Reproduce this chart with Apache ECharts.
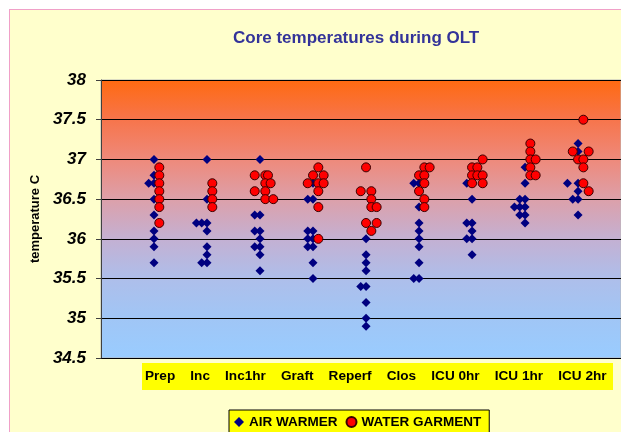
<!DOCTYPE html>
<html>
<head>
<meta charset="utf-8">
<script src="https://cdn.jsdelivr.net/npm/echarts@6/dist/echarts.min.js"></script>
<style>
  html, body { margin: 0; padding: 0; background: #fff; }
  #frame {
    position: absolute; left: 9px; top: 9px; width: 640px; height: 440px;
    background: #ffffcc; border-left: 1px solid #f0a0c8; border-top: 1px solid #f0a0c8;
  }
  #chart { position: absolute; left: 0; top: 0; width: 621px; height: 432px; }
</style>
</head>
<body>
<div id="frame"></div>
<div id="chart"></div>
<script>
// category names shown under the plot (a text box in the original sheet)
const categories = ['Prep', 'Inc', 'Inc1hr', 'Graft', 'Reperf', 'Clos', 'ICU 0hr', 'ICU 1hr', 'ICU 2hr']

// [x position (category index + small jitter), temperature]
const airWarmer = [
  [1, 37.0], [1, 36.8], [0.9, 36.7], [1, 36.7], [1, 36.5], [1, 36.3], [1, 36.1], [1, 36.0], [1, 35.9], [1, 35.7],
  [2, 37.0], [2, 36.5], [1.8, 36.2], [1.9, 36.2], [2, 36.2], [2, 36.1], [2, 35.9], [2, 35.8], [1.9, 35.7], [2, 35.7],
  [3, 37.0], [2.9, 36.3], [3, 36.3], [2.9, 36.1], [3, 36.1], [3, 36.0], [2.9, 35.9], [3, 35.9], [3, 35.8], [3, 35.6],
  [4, 36.7], [3.9, 36.5], [4, 36.5], [3.9, 36.1], [4, 36.1], [3.9, 36.0], [4, 36.0], [3.9, 35.9], [4, 35.9], [4, 35.7], [4, 35.5],
  [5, 36.0], [5, 35.8], [5, 35.7], [5, 35.6], [4.9, 35.4], [5, 35.4], [5, 35.2], [5, 35.0], [5, 34.9],
  [5.9, 36.7], [6, 36.7], [6, 36.4], [6, 36.2], [6, 36.1], [6, 36.0], [6, 35.9], [6, 35.7], [5.9, 35.5], [6, 35.5],
  [6.9, 36.7], [7, 36.5], [6.9, 36.2], [7, 36.2], [7, 36.1], [6.9, 36.0], [7, 36.0], [7, 35.8],
  [8, 36.9], [8, 36.7], [7.9, 36.5], [8, 36.5], [7.8, 36.4], [7.9, 36.4], [8, 36.4], [7.9, 36.3], [8, 36.3], [8, 36.2],
  [9, 37.2], [9, 37.1], [8.8, 36.7], [9, 36.7], [9, 36.6], [8.9, 36.5], [9, 36.5], [9, 36.3]
]

const waterGarment = [
  [1.1, 36.9], [1.1, 36.8], [1.1, 36.7], [1.1, 36.6], [1.1, 36.5], [1.1, 36.4], [1.1, 36.2],
  [2.1, 36.7], [2.1, 36.6], [2.1, 36.5], [2.1, 36.4],
  [2.9, 36.8], [3.1, 36.8], [3.15, 36.8], [3.1, 36.7], [3.2, 36.7], [2.9, 36.6], [3.1, 36.6], [3.1, 36.5], [3.25, 36.5],
  [4.1, 36.9], [4, 36.8], [4.2, 36.8], [3.9, 36.7], [4.1, 36.7], [4.2, 36.7], [4.1, 36.6], [4.1, 36.4], [4.1, 36.0],
  [5, 36.9], [4.9, 36.6], [5.1, 36.6], [5.1, 36.5], [5.1, 36.4], [5.2, 36.4], [5, 36.2], [5.2, 36.2], [5.1, 36.1],
  [6.1, 36.9], [6.2, 36.9], [6, 36.8], [6.1, 36.8], [6.1, 36.7], [6, 36.6], [6.1, 36.5], [6.1, 36.4],
  [7.2, 37.0], [7, 36.9], [7.1, 36.9], [7, 36.8], [7.1, 36.8], [7.2, 36.8], [7, 36.7], [7.2, 36.7],
  [8.1, 37.2], [8.1, 37.1], [8.1, 37.0], [8.2, 37.0], [8.1, 36.9], [8.1, 36.8], [8.2, 36.8],
  [9.1, 37.5], [8.9, 37.1], [9.2, 37.1], [9, 37.0], [9.1, 37.0], [9.1, 36.9], [9.1, 36.7], [9.2, 36.6]
]

const font = '"Liberation Sans", Arial, sans-serif'
const chart = echarts.init(document.getElementById('chart'))

chart.setOption({
  animation: false,
  textStyle: { fontFamily: font },
  title: {
    text: 'Core temperatures during OLT',
    left: 228,
    top: 25,
    textStyle: { color: '#333399', fontSize: 17, fontWeight: 'bold', fontFamily: font },
  },
  grid: {
    left: 101,
    right: 0,
    top: 80,
    bottom: 74,
    show: true,
    borderColor: '#b8b8b8',
    borderWidth: 1,
    backgroundColor: new echarts.graphic.LinearGradient(0, 0, 0, 1, [
      { offset: 0, color: '#ff6a10' },
      { offset: 0.14, color: '#f7744a' },
      { offset: 0.29, color: '#ee8a7c' },
      { offset: 0.43, color: '#dca0aa' },
      { offset: 0.57, color: '#c4b0d2' },
      { offset: 0.71, color: '#aebeea' },
      { offset: 0.86, color: '#a0c6f6' },
      { offset: 1, color: '#99ccff' },
    ]),
  },
  xAxis: {
    type: 'value',
    min: 0,
    max: 9.81,
    show: false,
  },
  yAxis: {
    type: 'value',
    min: 34.5,
    max: 38,
    interval: 0.5,
    name: 'temperature C',
    nameLocation: 'middle',
    nameRotate: 90,
    nameGap: 59,
    nameTextStyle: { color: '#000', fontSize: 13, fontWeight: 'bold', fontFamily: font },
    axisLine: { show: true, lineStyle: { color: '#404040', width: 1 } },
    axisTick: { show: true, length: 5, lineStyle: { color: '#404040' } },
    axisLabel: {
      margin: 15,
      color: '#000',
      fontSize: 17,
      fontWeight: 'bold',
      fontStyle: 'italic',
      fontFamily: font,
    },
    splitLine: { show: true, lineStyle: { color: '#000', width: 1 } },
  },
  legend: {
    left: 229,
    top: 410,
    orient: 'horizontal',
    backgroundColor: '#ffff00',
    borderColor: '#000',
    borderWidth: 1,
    borderRadius: 0,
    padding: [5, 8, 6, 5],
    itemWidth: 10,
    itemHeight: 10,
    itemGap: 8,
    textStyle: { color: '#000', fontSize: 13.5, fontWeight: 'bold', fontFamily: font },
    data: ['AIR WARMER', 'WATER GARMENT'],
  },
  graphic: [
    {
      type: 'group',
      left: 142,
      top: 363,
      children: [
        { type: 'rect', shape: { x: 0, y: 0, width: 471, height: 27 }, style: { fill: '#ffff00' } },
        {
          type: 'text',
          x: 3,
          y: 13.5,
          style: {
            text: categories.join('    '),
            fill: '#000',
            font: 'bold 13.6px ' + font,
            verticalAlign: 'middle',
          },
        },
      ],
    },
  ],
  series: [
    {
      name: 'AIR WARMER',
      type: 'scatter',
      data: airWarmer,
      symbol: 'diamond',
      symbolSize: 9,
      itemStyle: { color: '#000080', opacity: 1 },
      z: 2,
    },
    {
      name: 'WATER GARMENT',
      type: 'scatter',
      data: waterGarment,
      symbol: 'circle',
      symbolSize: 9,
      itemStyle: { color: '#ff0000', borderColor: '#3a0000', borderWidth: 1, opacity: 1 },
      z: 3,
    },
  ],
})
</script>
</body>
</html>
